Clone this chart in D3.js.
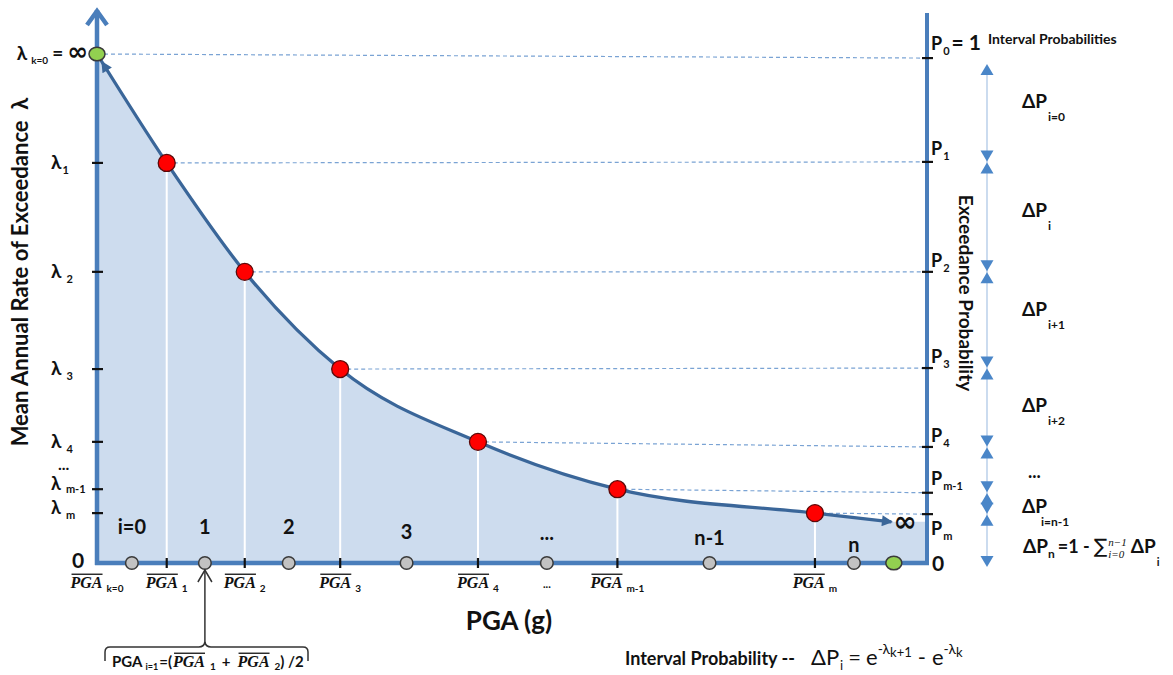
<!DOCTYPE html>
<meta charset="utf-8">
<style>
body { margin: 0; background: #fff; }
</style>
<svg width="1173" height="675"></svg>
<script src="https://d3js.org/d3.v7.min.js"></script>
<script>

// hazard curve breakpoints (PGA as fraction of the axis, rate as fraction of the axis)
var pgaBins = [0, 0.084, 0.178, 0.293, 0.459, 0.627, 0.865],
    binSubs = ["k=0", "1", "2", "3", "4", "m-1", "m"],
    lambdaVals = [1, 0.786, 0.572, 0.381, 0.238, 0.145, 0.098],
    lambdaSubs = ["k=0", "1", "2", "3", "4", "m-1", "m"],
    pgaInf = 0.957,
    lambdaInf = 0.081;

// interval mid-points on the PGA axis
var midPga = [0.042, 0.130, 0.231, 0.373, 0.542, 0.738, 0.912],
    intervalNames = ["i=0", "1", "2", "3", "...", "n-1", "n"];

// exceedance probability levels on the right axis
var pLevels = [0.992, 0.788, 0.572, 0.383, 0.228, 0.138, 0.096],
    pSubs = ["0", "1", "2", "3", "4", "m-1", "m"],
    dpSubs = ["i=0", "i", "i+1", "i+2", "...", "i=n-1"];

var svg = d3.select("svg"),
    axisBlue = "#4a7ebb",
    curveBlue = "#3a6699",
    ink = "#111",
    sans = "Lato, 'DejaVu Sans', sans-serif",
    serif = "'Liberation Serif', 'DejaVu Serif', serif",
    symbol = "'DejaVu Sans', sans-serif";

var x = d3.scaleLinear().domain([0, 1]).range([97, 927]),
    y = d3.scaleLinear().domain([0, 1]).range([563, 54]);

// little rich-text helper: pieces laid out left to right
function T(t, size, o) { return Object.assign({t: t, size: size}, o || {}); }
function rich(parent, px, py, parts, anchor) {
  var g = parent.append("g"), cx = 0, pending = 0;
  parts.forEach(function(p) {
    var dx = p.dx || 0, dy = p.dy || 0;
    var t = g.append("text")
        .attr("x", cx + dx)
        .attr("y", dy)
        .attr("fill", p.fill || ink)
        .style("font-family", p.font || sans)
        .style("font-size", p.size + "px")
        .style("font-style", p.italic ? "italic" : null)
        .style("font-weight", p.light ? "normal" : "bold")
        .text(p.t);
    var w = t.node().getComputedTextLength();
    if (p.over) g.append("line")
        .attr("x1", cx + dx + 1).attr("x2", cx + dx + w)
        .attr("y1", dy - p.size * 0.86).attr("y2", dy - p.size * 0.86)
        .attr("stroke", ink).attr("stroke-width", 1.3);
    if (p.stay) pending = Math.max(pending, dx + w);
    else { cx += Math.max(pending, dx + w); pending = 0; }
  });
  var shift = anchor === "middle" ? -cx / 2 : anchor === "end" ? -cx : 0;
  g.attr("transform", "translate(" + (px + shift) + "," + py + ")");
  return g;
}

var defs = svg.append("defs");
defs.append("marker")
    .attr("id", "head")
    .attr("viewBox", "0 0 10 10")
    .attr("refX", 8.5).attr("refY", 5)
    .attr("markerWidth", 12).attr("markerHeight", 11)
    .attr("markerUnits", "userSpaceOnUse")
    .attr("orient", "auto")
  .append("path").attr("d", "M0,0L10,5L0,10z").attr("fill", curveBlue);
defs.append("marker")
    .attr("id", "tail")
    .attr("viewBox", "0 0 10 10")
    .attr("refX", 17.5).attr("refY", 5)
    .attr("markerWidth", 12).attr("markerHeight", 11)
    .attr("markerUnits", "userSpaceOnUse")
    .attr("orient", "auto-start-reverse")
  .append("path").attr("d", "M0,0L10,5L0,10z").attr("fill", curveBlue);

// curve + shaded area
var pts = pgaBins.map(function(v, i) { return [v, lambdaVals[i]]; }).concat([[pgaInf, lambdaInf]]);
var line = d3.line()
    .x(function(d) { return x(d[0]); })
    .y(function(d) { return y(d[1]); })
    .curve(d3.curveMonotoneX);
var dLine = line(pts);

svg.append("path")
    .attr("d", dLine + "L" + x(1) + "," + y(lambdaInf) + "L" + x(1) + "," + y(0) + "L" + x(0) + "," + y(0) + "Z")
    .attr("fill", "#cddcee");

// dashed guides to the probability axis
svg.append("g").selectAll("line")
  .data(pgaBins)
  .enter().append("line")
    .attr("x1", function(d) { return x(d); })
    .attr("y1", function(d, i) { return y(lambdaVals[i]); })
    .attr("x2", x(1))
    .attr("y2", function(d, i) { return y(pLevels[i]); })
    .attr("stroke", "#7aa3d4")
    .attr("stroke-width", 1.2)
    .attr("stroke-dasharray", "4,3");

// white drop lines
svg.append("g").selectAll("line")
  .data(pgaBins.slice(1))
  .enter().append("line")
    .attr("x1", function(d) { return x(d); })
    .attr("x2", function(d) { return x(d); })
    .attr("y1", function(d, i) { return y(lambdaVals[i + 1]); })
    .attr("y2", y(0) - 2)
    .attr("stroke", "#fff")
    .attr("stroke-width", 2);

svg.append("path")
    .attr("d", dLine)
    .attr("fill", "none")
    .attr("stroke", curveBlue)
    .attr("stroke-width", 3.3)
    .attr("marker-start", "url(#tail)")
    .attr("marker-end", "url(#head)");

// axes
var axes = svg.append("g").attr("stroke", axisBlue).attr("stroke-width", 4.5).attr("fill", "none");
axes.append("path").attr("d", "M" + x(0) + "," + (y(0) + 2) + "V10");
axes.append("path").attr("d", "M" + (x(0) - 10) + ",25L" + x(0) + ",11L" + (x(0) + 10) + ",25")
    .attr("stroke-linejoin", "miter");
axes.append("path").attr("d", "M" + (x(0) - 2) + "," + y(0) + "H" + (x(1) + 2));
axes.append("path").attr("d", "M" + x(1) + "," + (y(0) + 2) + "V13").attr("stroke-width", 4);

// ticks
var ticks = svg.append("g").attr("stroke", ink).attr("stroke-width", 2.2);
ticks.selectAll(".ly").data(lambdaVals.slice(1)).enter().append("line")
    .attr("x1", x(0) - 5).attr("x2", x(0) + 6)
    .attr("y1", function(d) { return y(d); }).attr("y2", function(d) { return y(d); });
ticks.selectAll(".ry").data(pLevels).enter().append("line")
    .attr("x1", x(1) - 5).attr("x2", x(1) + 6)
    .attr("y1", function(d) { return y(d); }).attr("y2", function(d) { return y(d); });
ticks.selectAll(".bx").data(pgaBins.slice(1)).enter().append("line")
    .attr("x1", function(d) { return x(d); }).attr("x2", function(d) { return x(d); })
    .attr("y1", y(0) - 5).attr("y2", y(0) + 5);

// markers on the curve and axis
svg.append("g").selectAll("circle")
  .data(pgaBins.slice(1))
  .enter().append("circle")
    .attr("cx", function(d) { return x(d); })
    .attr("cy", function(d, i) { return y(lambdaVals[i + 1]); })
    .attr("r", 8.5)
    .attr("fill", "#ff0000")
    .attr("stroke", "#5a0a0a")
    .attr("stroke-width", 1.3);

svg.append("g").selectAll("circle")
  .data(midPga)
  .enter().append("circle")
    .attr("cx", function(d) { return x(d); })
    .attr("cy", y(0))
    .attr("r", 6.3)
    .attr("fill", "#c2c2c2")
    .attr("stroke", "#3a3a3a")
    .attr("stroke-width", 1.5);

svg.append("g").selectAll("ellipse")
  .data([[0, 1], [pgaInf + 0.003, 0]])
  .enter().append("ellipse")
    .attr("cx", function(d) { return x(d[0]); })
    .attr("cy", function(d) { return y(d[1]); })
    .attr("rx", 8).attr("ry", 6.8)
    .attr("fill", "#92d050")
    .attr("stroke", "#3a3a3a")
    .attr("stroke-width", 1.5);

// infinity at the curve tail
svg.append("text")
    .attr("x", x(pgaInf) + 2).attr("y", y(lambdaInf) + 9)
    .style("font-family", symbol).style("font-weight", "bold").style("font-size", "28px")
    .attr("fill", ink)
    .text("∞");

// interval numbers
var labelLift = [0, 0, 0, 5, 6, 11, 18];
intervalNames.forEach(function(n, i) {
  rich(svg, x(midPga[i]), 534 + labelLift[i], [T(n, 20)], "middle");
});

// x tick labels
pgaBins.forEach(function(v, i) {
  rich(svg, x(v), 588, [T("PGA", 16, {font: serif, italic: true, over: true}),
                        T(binSubs[i], 10, {dx: 4, dy: 4})], "middle");
});
rich(svg, x(midPga[4]), 588, [T("...", 11)], "middle");

// left axis labels
var lamNudge = [6, 6, 6, 6, 6, 1, 1];
lambdaVals.forEach(function(v, i) {
  if (i === 0) {
    rich(svg, 88, y(v) + 6, [T("λ", 19), T(lambdaSubs[i], 10, {dx: 4, dy: 4}),
                             T("=", 19, {dx: 4}), T("∞", 25, {font: symbol, dx: 4})], "end");
  } else {
    var big = i < 5 ? 19 : 18;
    rich(svg, 51, y(v) + lamNudge[i], [T("λ", big), T(lambdaSubs[i], 11, {dx: i === 1 ? 1 : 5, dy: i === 5 ? 3 : 5})]);
  }
});
rich(svg, 58, 470, [T("...", 16)]);
rich(svg, 72, 568, [T("0", 21)]);

// right axis labels
var pNudge = [-8, -7, -5, -5, -5, -8, 21];
pLevels.forEach(function(v, i) {
  var parts = [T("P", 18), T(pSubs[i], 11, {dx: 1, dy: 5})];
  if (i === 0) parts.push(T("= 1", 21, {dx: 2}));
  rich(svg, 931, y(v) + pNudge[i], parts);
});
rich(svg, 932, 571, [T("0", 21)]);
rich(svg, 988, 44, [T("Interval Probabilities", 14)]);

// axis titles
svg.append("text")
    .attr("transform", "translate(28,272) rotate(-90)")
    .attr("text-anchor", "middle")
    .style("font-family", sans).style("font-weight", "bold").style("font-size", "22px")
    .attr("fill", ink)
    .text("Mean Annual Rate of Exceedance \u00a0λ");
svg.append("text")
    .attr("transform", "translate(959,293) rotate(90)")
    .attr("text-anchor", "middle")
    .style("font-family", sans).style("font-weight", "bold").style("font-size", "19px")
    .attr("fill", ink)
    .text("Exceedance Probability");
svg.append("text")
    .attr("x", 509).attr("y", 630)
    .attr("text-anchor", "middle")
    .style("font-family", sans).style("font-weight", "bold").style("font-size", "26px")
    .attr("fill", ink)
    .text("PGA (g)");

// interval probability arrows
var ax = 987;
svg.append("line")
    .attr("x1", ax).attr("x2", ax)
    .attr("y1", y(pLevels[0]) + 8).attr("y2", y(0) + 2)
    .attr("stroke", "#a8c4e4").attr("stroke-width", 1.2);
function tri(tipY, dir) {
  return "M" + ax + "," + tipY + "L" + (ax - 6.5) + "," + (tipY + dir * 11) + "L" + (ax + 6.5) + "," + (tipY + dir * 11) + "Z";
}
var tris = [tri(y(pLevels[0]) + 6, 1), tri(y(0) + 4, -1)];
pLevels.slice(1).forEach(function(v) {
  tris.push(tri(y(v) - 0.5, -1), tri(y(v) + 0.5, 1));
});
svg.append("g").selectAll("path")
  .data(tris)
  .enter().append("path")
    .attr("d", function(d) { return d; })
    .attr("fill", "#4a86c8");

// interval probability labels
var dpNudge = [-2, 0, -4, 4, 8, 10];
dpSubs.forEach(function(s, i) {
  var mid = (y(pLevels[i]) + y(pLevels[i + 1])) / 2 + dpNudge[i];
  if (s === "...") rich(svg, 1028, mid, [T("...", 18)]);
  else rich(svg, 1022, mid, [T("ΔP", 19), T(s, 12, {dx: s === "i=n-1" ? -6 : 1, dy: 13})]);
});
rich(svg, 1023, 553, [T("ΔP", 19), T("n", 12, {dx: 0, dy: 5}), T("=1 -", 18, {dx: 3}),
                      T("∑", 20, {font: symbol, light: true, dx: 4}),
                      T("n−1", 11, {font: serif, italic: true, light: true, dx: 1, dy: -7, stay: true}),
                      T("i=0", 11, {font: serif, italic: true, light: true, dx: 1, dy: 5}),
                      T("ΔP", 19, {dx: 4}), T("i", 11, {dx: 1, dy: 13})]);

// footnotes
var ann = svg.append("g").attr("stroke", "#333").attr("stroke-width", 1.5).attr("fill", "none");
var ax2 = x(midPga[1]);
ann.append("path").attr("d", "M" + ax2 + ",643V571");
ann.append("path").attr("d", "M" + (ax2 - 7) + ",582L" + ax2 + ",570L" + (ax2 + 7) + ",582");
ann.append("path").attr("d", "M105,661V652Q105,647 110,647H" + (ax2 - 6) + "Q" + (ax2 - 1) + ",647 " + ax2 + ",642Q" + (ax2 + 1) + ",647 " + (ax2 + 6) + ",647H303Q308,647 308,652V661");

rich(svg, 112, 667, [T("PGA", 15), T("i=1", 9, {dx: 3, dy: 3}), T("=(", 15, {dx: 1}),
                     T("PGA", 16, {font: serif, italic: true, over: true, dx: 1}), T("1", 10, {dx: 5, dy: 3}),
                     T("+", 15, {dx: 6}),
                     T("PGA", 16, {font: serif, italic: true, over: true, dx: 7}), T("2", 10, {dx: 5, dy: 3}),
                     T(") /2", 15)]);

rich(svg, 625, 665, [T("Interval Probability --", 18),
                     T("ΔP", 22, {light: true, dx: 16}), T("i", 13, {light: true, dx: 1, dy: 5}),
                     T("=", 22, {light: true, dx: 5}), T("e", 22, {light: true, dx: 5}),
                     T("-λ", 14, {light: true, dy: -11}), T("k+1", 13, {light: true, dy: -8}),
                     T("-", 22, {light: true, dx: 6}), T("e", 22, {light: true, dx: 6}),
                     T("-λ", 14, {light: true, dy: -11}), T("k", 13, {light: true, dy: -8})]);

</script>
